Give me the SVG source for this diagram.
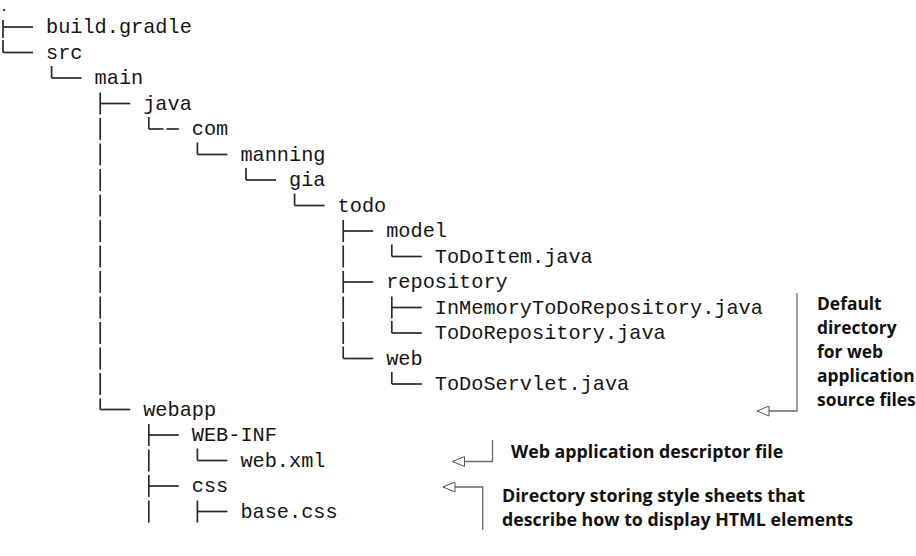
<svg xmlns="http://www.w3.org/2000/svg" width="916" height="556" viewBox="0 0 916 556">
<defs>
<style>
.t{font-family:"Liberation Mono","DejaVu Sans Mono",monospace;font-size:20.25px;fill:#151515}
.n{font-family:"Open Sans","Lato","Liberation Sans",sans-serif;font-weight:700;font-size:17.8px;fill:#111}
.n2{font-size:17.4px}
.tr line{stroke:#2a2a2a;stroke-width:1.7}
.ar path{fill:none;stroke:#6a6a6a;stroke-width:1.3;marker-end:url(#open)}
</style>
<marker id="open" viewBox="0 0 13 11" refX="12.5" refY="5.5" markerWidth="13" markerHeight="11" markerUnits="userSpaceOnUse" orient="auto">
<path d="M0.5,0.5 L12.5,5.5 L0.5,10.5 Z" fill="#fff" stroke="#555" stroke-width="1"/>
</marker>
</defs>
<rect width="916" height="556" fill="#fff"/>

<g id="tree-lines" class="tr">
<line x1="3" y1="20" x2="3" y2="38"/><line x1="3" y1="27" x2="33" y2="27"/>
<line x1="3" y1="40" x2="3" y2="52.5"/><line x1="3" y1="52.5" x2="33" y2="52.5"/>
<line x1="51.6" y1="66" x2="51.6" y2="78"/><line x1="51.6" y1="78" x2="81.6" y2="78"/>
<line x1="100.2" y1="92.5" x2="100.2" y2="114.5"/><line x1="100.2" y1="103.5" x2="130.2" y2="103.5"/>
<line x1="100.2" y1="118" x2="100.2" y2="140"/>
<line x1="100.2" y1="143.5" x2="100.2" y2="165.5"/>
<line x1="100.2" y1="169" x2="100.2" y2="191"/>
<line x1="100.2" y1="194.5" x2="100.2" y2="216.5"/>
<line x1="100.2" y1="220" x2="100.2" y2="242"/>
<line x1="100.2" y1="245.5" x2="100.2" y2="267.5"/>
<line x1="100.2" y1="271" x2="100.2" y2="293"/>
<line x1="100.2" y1="296.5" x2="100.2" y2="318.5"/>
<line x1="100.2" y1="322" x2="100.2" y2="344"/>
<line x1="100.2" y1="347.5" x2="100.2" y2="369.5"/>
<line x1="100.2" y1="373" x2="100.2" y2="395"/>
<line x1="100.2" y1="398.5" x2="100.2" y2="409.5"/><line x1="100.2" y1="409.5" x2="130.2" y2="409.5"/>
<line x1="148.8" y1="117" x2="148.8" y2="129"/><line x1="148.8" y1="129" x2="163.5" y2="129"/><line x1="166.5" y1="129" x2="178.8" y2="129"/>
<line x1="148.8" y1="424" x2="148.8" y2="446"/><line x1="148.8" y1="435" x2="178.8" y2="435"/>
<line x1="148.8" y1="449.5" x2="148.8" y2="471.5"/>
<line x1="148.8" y1="475" x2="148.8" y2="497"/><line x1="148.8" y1="486" x2="178.8" y2="486"/>
<line x1="148.8" y1="500.5" x2="148.8" y2="522.5"/>
<line x1="197.4" y1="142.5" x2="197.4" y2="154.5"/><line x1="197.4" y1="154.5" x2="227.4" y2="154.5"/>
<line x1="197.4" y1="448.5" x2="197.4" y2="460.5"/><line x1="197.4" y1="460.5" x2="227.4" y2="460.5"/>
<line x1="197.4" y1="500.5" x2="197.4" y2="522.5"/><line x1="197.4" y1="511.5" x2="227.4" y2="511.5"/>
<line x1="246" y1="168" x2="246" y2="180"/><line x1="246" y1="180" x2="276" y2="180"/>
<line x1="294.6" y1="193.5" x2="294.6" y2="205.5"/><line x1="294.6" y1="205.5" x2="324.6" y2="205.5"/>
<line x1="343.2" y1="220" x2="343.2" y2="242"/><line x1="343.2" y1="231" x2="373.2" y2="231"/>
<line x1="343.2" y1="245.5" x2="343.2" y2="267.5"/>
<line x1="343.2" y1="271" x2="343.2" y2="293"/><line x1="343.2" y1="282" x2="373.2" y2="282"/>
<line x1="343.2" y1="296.5" x2="343.2" y2="318.5"/>
<line x1="343.2" y1="322" x2="343.2" y2="344"/>
<line x1="343.2" y1="346.5" x2="343.2" y2="358.5"/><line x1="343.2" y1="358.5" x2="373.2" y2="358.5"/>
<line x1="391.8" y1="244.5" x2="391.8" y2="256.5"/><line x1="391.8" y1="256.5" x2="421.8" y2="256.5"/>
<line x1="391.8" y1="296.5" x2="391.8" y2="318.5"/><line x1="391.8" y1="307.5" x2="421.8" y2="307.5"/>
<line x1="391.8" y1="321" x2="391.8" y2="333"/><line x1="391.8" y1="333" x2="421.8" y2="333"/>
<line x1="391.8" y1="372" x2="391.8" y2="384"/><line x1="391.8" y1="384" x2="421.8" y2="384"/>
</g>

<g id="nodes">
<g id="root"><text class="t" x="0.5" y="11" style="font-size:12px;font-weight:700">.</text></g>
<g id="build-gradle"><text class="t" x="46" y="33">build.gradle</text></g>
<g id="src"><text class="t" x="46" y="58.5">src</text></g>
<g id="main"><text class="t" x="94.6" y="84">main</text></g>
<g id="java"><text class="t" x="143.2" y="109.5">java</text></g>
<g id="com"><text class="t" x="191.8" y="135">com</text></g>
<g id="manning"><text class="t" x="240.4" y="160.5">manning</text></g>
<g id="gia"><text class="t" x="289" y="186">gia</text></g>
<g id="todo"><text class="t" x="337.6" y="211.5">todo</text></g>
<g id="model"><text class="t" x="386.2" y="237">model</text></g>
<g id="todoitem"><text class="t" x="434.8" y="262.5">ToDoItem.java</text></g>
<g id="repository"><text class="t" x="386.2" y="288">repository</text></g>
<g id="inmemory"><text class="t" x="434.8" y="313.5">InMemoryToDoRepository.java</text></g>
<g id="todorepository"><text class="t" x="434.8" y="339">ToDoRepository.java</text></g>
<g id="web"><text class="t" x="386.2" y="364.5">web</text></g>
<g id="todoservlet"><text class="t" x="434.8" y="390">ToDoServlet.java</text></g>
<g id="webapp"><text class="t" x="143.2" y="415.5">webapp</text></g>
<g id="web-inf"><text class="t" x="191.8" y="441">WEB-INF</text></g>
<g id="web-xml"><text class="t" x="240.4" y="466.5">web.xml</text></g>
<g id="css"><text class="t" x="191.8" y="492">css</text></g>
<g id="base-css"><text class="t" x="240.4" y="517.5">base.css</text></g>
</g>

<g id="connectors" class="ar">
<path d="M797,293 V411 H757"/>
<path d="M492.5,440 V461.5 H452.5"/>
<path d="M482.7,530 V487 H443"/>
</g>

<g id="note-default">
<text class="n n2" x="817" y="310">Default</text>
<text class="n n2" x="817" y="334">directory</text>
<text class="n n2" x="817" y="358">for web</text>
<text class="n n2" x="817" y="382">application</text>
<text class="n n2" x="817" y="406">source files</text>
</g>
<g id="note-descriptor">
<text class="n" x="511" y="458">Web application descriptor file</text>
</g>
<g id="note-css">
<text class="n" x="502" y="502">Directory storing style sheets that</text>
<text class="n" x="502" y="526">describe how to display HTML elements</text>
</g>
</svg>
